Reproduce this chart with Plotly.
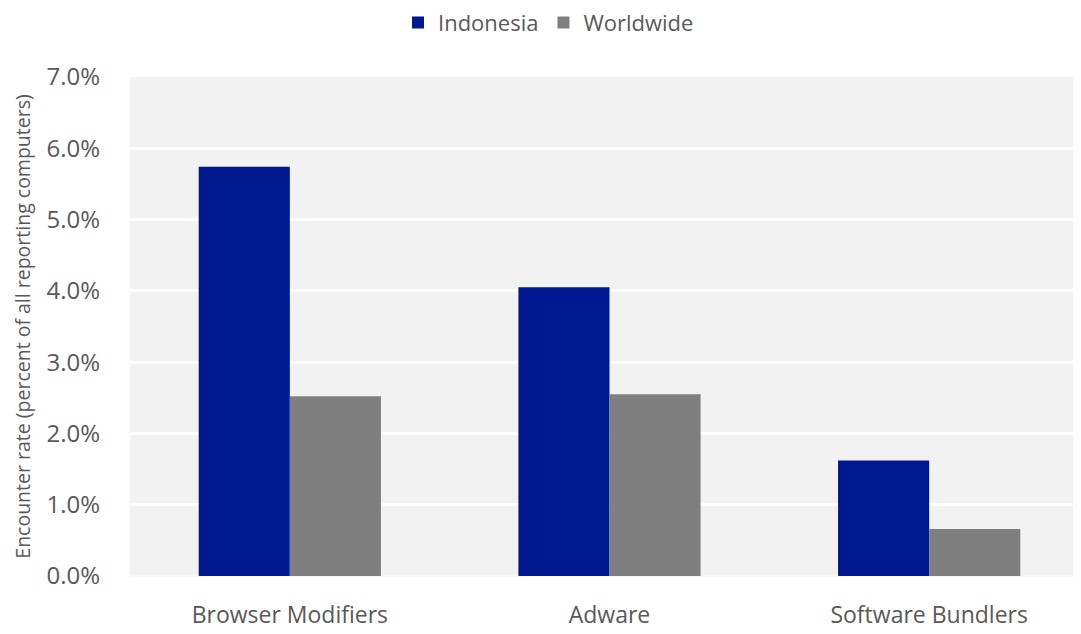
import plotly.graph_objects as go

categories = ["Browser Modifiers", "Adware", "Software Bundlers"]
indonesia = [5.74, 4.05, 1.62]
worldwide = [2.52, 2.55, 0.66]
tick_vals = [0, 1, 2, 3, 4, 5, 6, 7]
tick_text = ["0.0%", "1.0%", "2.0%", "3.0%", "4.0%", "5.0%", "6.0%", "7.0%"]

FONT = "Open Sans, Noto Sans, sans-serif"

fig = go.Figure()
fig.add_trace(go.Bar(name="Indonesia", x=categories, y=indonesia,
                     marker=dict(color="#00188F", line=dict(width=0))))
fig.add_trace(go.Bar(name="Worldwide", x=categories, y=worldwide,
                     marker=dict(color="#7F7F7F", line=dict(width=0))))

fig.update_layout(
    width=1081, height=634,
    margin=dict(l=122, r=0, t=69, b=66, autoexpand=False),
    paper_bgcolor="white",
    plot_bgcolor="#F2F2F2",
    barmode="group",
    bargap=0.43,
    bargroupgap=0,
    font=dict(family=FONT, color="#595959"),
    legend=dict(orientation="h", xref="container", x=0.5, xanchor="center",
                yref="container", y=0.977, yanchor="middle",
                font=dict(size=22, color="#595959"), itemwidth=30,
                bgcolor="rgba(0,0,0,0)"),
    xaxis=dict(range=[-0.5, 2.5], showgrid=False, showline=False,
               tickfont=dict(size=23, color="#595959"), ticks="outside", ticklen=18,
               tickcolor="rgba(0,0,0,0)", tickangle=0),
    yaxis=dict(range=[0, 7], tickvals=tick_vals, ticktext=tick_text,
               showgrid=True, gridcolor="white", gridwidth=3,
               zeroline=True, zerolinecolor="#F8F8F8", zerolinewidth=2,
               tickfont=dict(size=24, color="#595959"),
               ticks="outside", ticklen=24, tickcolor="rgba(0,0,0,0)",
               title=dict(text="Encounter rate (percent of all reporting computers)",
                          font=dict(size=19.5, color="#595959"), standoff=10)),
)

fig.write_html("out.html")
